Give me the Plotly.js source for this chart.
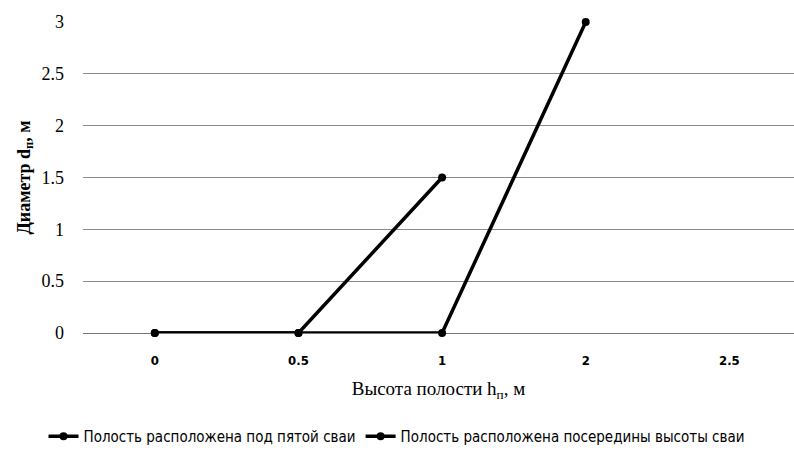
<!DOCTYPE html>
<html><head><meta charset="utf-8">
<script src="https://cdn.plot.ly/plotly-3.0.1.min.js"></script>
<style>body{margin:0;background:#fff}#chart{width:794px;height:450px}</style>
</head><body><div id="chart"></div>
<script>
const categories = ['0', '0.5', '1', '2', '2.5'];
const series1Name = 'Полость расположена под пятой сваи';
const series1X = ['0', '0.5', '1'];
const series1Y = [0, 0, 1.5];
const series2Name = 'Полость расположена посередины высоты сваи';
const series2X = ['0', '0.5', '1', '2'];
const series2Y = [0, 0, 0, 3];
const yTicks = [0, 0.5, 1, 1.5, 2, 2.5, 3];

const narrow = '"DejaVu Sans Condensed", "Liberation Sans Narrow", "Liberation Sans", sans-serif';
const lineStyle = {color: '#000', width: 3.5};
const markerStyle = {color: '#000', size: 8};
const traces = [
  {x: series1X, y: series1Y, name: series1Name, type: 'scatter', mode: 'lines+markers', line: lineStyle, marker: markerStyle, cliponaxis: false},
  {x: series2X, y: series2Y, name: series2Name, type: 'scatter', mode: 'lines+markers', line: lineStyle, marker: markerStyle, cliponaxis: false}
];
const layout = {
  width: 794, height: 450,
  margin: {l: 83, r: 0, t: 22, b: 117, autoexpand: false},
  paper_bgcolor: '#fff', plot_bgcolor: '#fff',
  showlegend: true,
  legend: {orientation: 'h', x: 0.5, xanchor: 'center', xref: 'container', y: 0.03, yanchor: 'middle', yref: 'container',
    font: {family: narrow, size: 15, color: '#000'}, itemwidth: 30},
  xaxis: {
    type: 'category', categoryorder: 'array', categoryarray: categories,
    tickvals: categories, ticktext: categories,
    range: [-0.5, 4.45], showgrid: false, zeroline: false, showline: false, ticks: '',
    ticklabelstandoff: 18,
    tickfont: {family: narrow, size: 13, color: '#000', weight: 'bold'},
    title: {text: 'Высота полости h<sub>п</sub>, м', font: {family: '"Liberation Serif", serif', size: 19, color: '#000'}, standoff: 14}
  },
  yaxis: {
    range: [0, 3], tickvals: yTicks, ticktext: yTicks.map(String),
    showgrid: true, gridcolor: '#8a8a8a', gridwidth: 1, zeroline: true, zerolinecolor: '#777', zerolinewidth: 1,
    showline: false, ticks: '', ticklabelstandoff: 18,
    tickfont: {family: '"Liberation Serif", serif', size: 18, color: '#000'},
    title: {text: '<b>Диаметр d<sub>п</sub>, м</b>', font: {family: '"Liberation Serif", serif', size: 18, color: '#000'}, standoff: 6}
  }
};
Plotly.newPlot('chart', traces, layout, {displayModeBar: false, staticPlot: true});
</script></body></html>
